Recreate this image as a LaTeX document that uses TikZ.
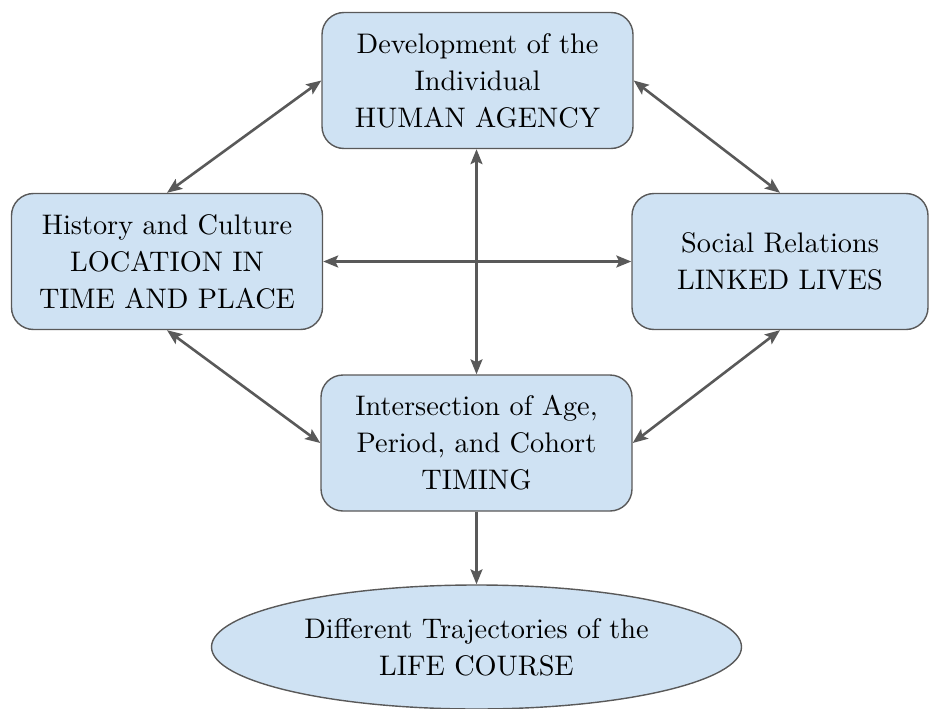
\documentclass[tikz,border=0pt]{standalone}
\usepackage{fontspec}
\newfontfamily\labelfont{lmroman10-regular.otf}
\usetikzlibrary{arrows.meta,shapes.geometric}
\definecolor{boxfill}{HTML}{CFE2F3}
\definecolor{edgegray}{HTML}{595959}
\begin{document}
\begin{tikzpicture}[x=1pt,y=-1pt,
  box/.style={draw=edgegray, line width=1.4pt, fill=boxfill, rounded corners=22pt,
    minimum width=311pt, minimum height=136pt, inner sep=0pt, align=center,
    font=\labelfont\fontsize{28.3}{37}\selectfont},
  oval/.style={ellipse, draw=edgegray, line width=1.4pt, fill=boxfill,
    minimum width=530pt, minimum height=124pt, inner sep=0pt, align=center,
    font=\labelfont\fontsize{28.3}{37}\selectfont},
  link/.style={draw=edgegray, line width=2.6pt,
    {Stealth[length=15pt,width=12pt,inset=3pt]}-{Stealth[length=15pt,width=12pt,inset=3pt]}},
  flow/.style={draw=edgegray, line width=2.6pt, -{Stealth[length=15pt,width=12pt,inset=3pt]}}]
  \useasboundingbox (0,0) rectangle (929,709);

  \node[box] (agency) at (477.5,80.5) {Development of the\\Individual\\HUMAN AGENCY};
  \node[box] (history) at (167,261.5) {History and Culture\\LOCATION IN\\TIME AND PLACE};
  \node[box, minimum width=296pt] (social) at (780,261.5) {Social Relations\\LINKED LIVES};
  \node[box] (timing) at (476.5,443) {Intersection of Age,\\Period, and Cohort\\TIMING};
  \node[oval] (course) at (476.5,647) {Different Trajectories of the\\LIFE COURSE};

  \draw[link] (history.north) -- (agency.west);
  \draw[link] (agency.east) -- (social.north);
  \draw[link] (history.south) -- (timing.west);
  \draw[link] (social.south) -- (timing.east);
  \draw[link] (history.east) -- (social.west);
  \draw[link] (agency.south -| timing.north) -- (timing.north);
  \draw[flow] (timing.south) -- (course.north);
\end{tikzpicture}
\end{document}
